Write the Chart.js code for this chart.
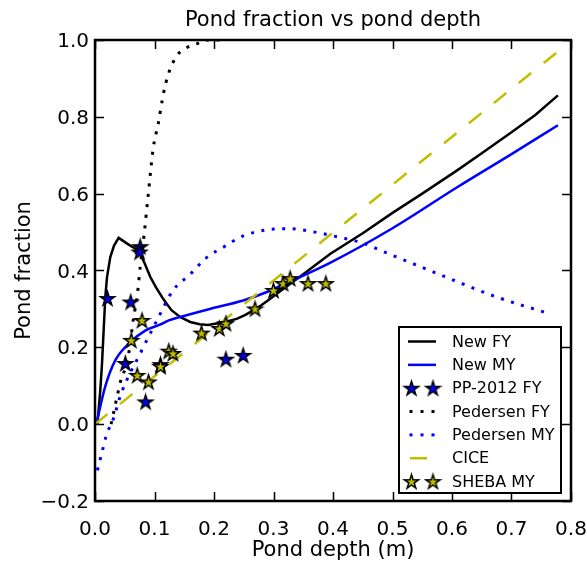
<!DOCTYPE html>
<html><head><meta charset="utf-8">
<script src="https://cdn.jsdelivr.net/npm/chart.js@4/dist/chart.umd.min.js"></script>
<style>html,body{margin:0;padding:0;background:#fff;overflow:hidden}</style>
</head><body>
<canvas id="c" width="587" height="564"></canvas>
<script>
// ---- data ----
const xTicks = [0.0, 0.1, 0.2, 0.3, 0.4, 0.5, 0.6, 0.7, 0.8];
const yTicks = [-0.2, 0.0, 0.2, 0.4, 0.6, 0.8, 1.0];

const newFyX = [0.004, 0.0089, 0.0118, 0.0173, 0.0202, 0.0257, 0.032, 0.0397, 0.056, 0.073, 0.083, 0.093, 0.103, 0.113, 0.121, 0.129, 0.143, 0.16, 0.176, 0.19, 0.204, 0.22, 0.238, 0.252, 0.266, 0.28, 0.294, 0.306, 0.35, 0.395, 0.45, 0.5, 0.55, 0.608, 0.65, 0.7, 0.74, 0.778];
const newFyY = [0.0, 0.088, 0.158, 0.331, 0.383, 0.435, 0.465, 0.485, 0.468, 0.452, 0.42, 0.383, 0.355, 0.33, 0.312, 0.296, 0.279, 0.266, 0.26, 0.258, 0.262, 0.267, 0.274, 0.284, 0.296, 0.31, 0.326, 0.34, 0.39, 0.443, 0.497, 0.55, 0.6, 0.66, 0.705, 0.76, 0.805, 0.856];

const newMyX = [0.003, 0.017, 0.034, 0.057, 0.085, 0.109, 0.124, 0.143, 0.193, 0.249, 0.289, 0.306, 0.395, 0.5, 0.608, 0.7, 0.778];
const newMyY = [0.006, 0.097, 0.166, 0.21, 0.244, 0.259, 0.27, 0.279, 0.3, 0.322, 0.344, 0.356, 0.42, 0.51, 0.616, 0.703, 0.778];

const ppFyX = [0.021, 0.076, 0.075, 0.06, 0.051, 0.085, 0.11, 0.22, 0.249];
const ppFyY = [0.327, 0.462, 0.448, 0.318, 0.158, 0.058, 0.155, 0.169, 0.179];

const pedFyX = [0.027, 0.031, 0.037, 0.045, 0.054, 0.059, 0.065, 0.071, 0.076, 0.083, 0.089, 0.098, 0.106, 0.115, 0.123, 0.138, 0.154, 0.171, 0.19, 0.21];
const pedFyY = [0.0, 0.028, 0.071, 0.123, 0.158, 0.21, 0.279, 0.335, 0.41, 0.5, 0.59, 0.72, 0.78, 0.86, 0.91, 0.96, 0.98, 0.99, 1.0, 1.0];

const pedMyX = [0.004, 0.012, 0.02, 0.029, 0.045, 0.076, 0.104, 0.131, 0.16, 0.188, 0.215, 0.249, 0.285, 0.323, 0.373, 0.409, 0.445, 0.496, 0.577, 0.675, 0.763];
const pedMyY = [-0.12, -0.072, -0.024, 0.006, 0.084, 0.184, 0.27, 0.348, 0.39, 0.434, 0.46, 0.49, 0.505, 0.509, 0.499, 0.487, 0.474, 0.442, 0.391, 0.331, 0.288];

const ciceX = [0.0, 0.778];
const ciceY = [0.0, 0.97];

const shebaX = [0.079, 0.061, 0.071, 0.09, 0.11, 0.124, 0.131, 0.179, 0.209, 0.22, 0.269, 0.3, 0.316, 0.328, 0.358, 0.388];
const shebaY = [0.27, 0.218, 0.127, 0.11, 0.15, 0.19, 0.184, 0.237, 0.249, 0.262, 0.3, 0.348, 0.366, 0.379, 0.366, 0.366];

const seriesNames = ['New FY', 'New MY', 'PP-2012 FY', 'Pedersen FY', 'Pedersen MY', 'CICE', 'SHEBA MY'];

// ---- helpers ----
const pts = (xs, ys) => xs.map((x, i) => ({x: x, y: ys[i]}));
const YEL = '#bfbf00';
function makeStar(fill, R) {
  const size = Math.ceil(R * 2 + 4);
  const c = document.createElement('canvas');
  c.width = c.height = size;
  const g = c.getContext('2d');
  const cx = size / 2, cy = size / 2 + 0.5, r = R * 0.381966;
  g.beginPath();
  for (let i = 0; i < 10; i++) {
    const a = -Math.PI / 2 + i * Math.PI / 5;
    const rr = (i % 2) ? r : R;
    g.lineTo(cx + rr * Math.cos(a), cy + rr * Math.sin(a));
  }
  g.closePath();
  g.fillStyle = fill; g.fill();
  g.lineWidth = 1.5; g.strokeStyle = '#000'; g.lineJoin = 'miter'; g.stroke();
  return c;
}
const blueStar = makeStar('#0000ff', 7.5);
const yelStar = makeStar(YEL, 7.5);

const FONT = "'DejaVu Sans', 'Liberation Sans', sans-serif";

const decor = {
  id: 'decor',
  afterDraw(chart) {
    const ctx = chart.ctx, a = chart.chartArea;
    const xs = chart.scales.x, ys = chart.scales.y;
    ctx.save();
    // frame
    ctx.strokeStyle = '#000';
    ctx.lineWidth = 2.5;
    ctx.strokeRect(a.left, a.top, a.right - a.left, a.bottom - a.top);
    // inward ticks on all sides
    ctx.lineWidth = 1.5;
    const TL = 9;
    ctx.beginPath();
    xTicks.forEach(v => {
      const px = Math.round(xs.getPixelForValue(v)) + 0.5;
      ctx.moveTo(px, a.bottom); ctx.lineTo(px, a.bottom - TL);
      ctx.moveTo(px, a.top); ctx.lineTo(px, a.top + TL);
    });
    yTicks.forEach(v => {
      const py = Math.round(ys.getPixelForValue(v)) + 0.5;
      ctx.moveTo(a.left, py); ctx.lineTo(a.left + TL, py);
      ctx.moveTo(a.right, py); ctx.lineTo(a.right - TL, py);
    });
    ctx.stroke();
    // tick labels
    ctx.fillStyle = '#000';
    ctx.font = '20px ' + FONT;
    ctx.textAlign = 'center';
    ctx.textBaseline = 'alphabetic';
    xTicks.forEach(v => {
      ctx.fillText(v.toFixed(1), xs.getPixelForValue(v), a.bottom + 34);
    });
    ctx.textAlign = 'right';
    yTicks.forEach(v => {
      const s = (v < 0 ? '\u2212' : '') + Math.abs(v).toFixed(1);
      ctx.fillText(s, a.left - 6, ys.getPixelForValue(v) + 7);
    });
    // title & axis titles
    ctx.font = '21px ' + FONT;
    ctx.textAlign = 'center';
    ctx.fillText('Pond fraction vs pond depth', (a.left + a.right) / 2, 26);
    ctx.fillText('Pond depth (m)', (a.left + a.right) / 2, 556);
    ctx.save();
    ctx.translate(30, (a.top + a.bottom) / 2);
    ctx.rotate(-Math.PI / 2);
    ctx.fillText('Pond fraction', 0, 0);
    ctx.restore();
    // legend
    const L = 399, T = 327, W = 162, H = 166;
    ctx.fillStyle = '#fff';
    ctx.fillRect(L, T, W, H);
    ctx.lineWidth = 2;
    ctx.strokeStyle = '#000';
    ctx.strokeRect(L, T, W, H);
    const ds = chart.data.datasets;
    ctx.font = '16px ' + FONT;
    ctx.textAlign = 'left';
    ctx.textBaseline = 'middle';
    seriesNames.forEach((name, i) => {
      const y = 341.5 + i * 23.35;
      const d = ds[i];
      if (d.isStars) {
        const img = d.pointStyle;
        ctx.drawImage(img, 411.5 - img.width / 2, y - img.height / 2);
        ctx.drawImage(img, 433 - img.width / 2, y - img.height / 2);
      } else if (d.isDotted) {
        ctx.fillStyle = d.borderColor;
        [411, 422, 433].forEach(px => { ctx.fillRect(px - 1.5, y - 1.5, 3, 3); });
      } else if (d.isDashed) {
        ctx.strokeStyle = d.borderColor; ctx.lineWidth = 2.5;
        ctx.beginPath(); ctx.moveTo(410, y); ctx.lineTo(427, y); ctx.stroke();
      } else {
        ctx.strokeStyle = d.borderColor; ctx.lineWidth = 2.5;
        ctx.beginPath(); ctx.moveTo(408, y); ctx.lineTo(436, y); ctx.stroke();
      }
      ctx.fillStyle = '#000';
      ctx.fillText(name, 452, y + 1);
    });
    ctx.restore();
  }
};

const lineDs = (label, xs, ys, color, extra) => Object.assign({
  label: label, data: pts(xs, ys), showLine: true, borderColor: color,
  backgroundColor: color, borderWidth: 2.5, pointRadius: 0, pointHoverRadius: 0,
  fill: false
}, extra || {});

const datasets = [
  lineDs(seriesNames[0], newFyX, newFyY, '#000000', {tension: 0}),
  lineDs(seriesNames[1], newMyX, newMyY, '#0000ff', {cubicInterpolationMode: 'monotone'}),
  {label: seriesNames[2], data: pts(ppFyX, ppFyY), showLine: false, pointStyle: blueStar, pointRadius: 8, isStars: true},
  lineDs(seriesNames[3], pedFyX, pedFyY, '#000000', {cubicInterpolationMode: 'monotone', borderWidth: 3, borderDash: [3, 7.5], isDotted: true}),
  lineDs(seriesNames[4], pedMyX, pedMyY, '#0000ff', {cubicInterpolationMode: 'monotone', borderWidth: 3, borderDash: [3, 7.5], isDotted: true}),
  lineDs(seriesNames[5], ciceX, ciceY, YEL, {borderWidth: 2.5, borderDash: [16, 16], isDashed: true}),
  {label: seriesNames[6], data: pts(shebaX, shebaY), showLine: false, pointStyle: yelStar, pointRadius: 8, isStars: true}
];
datasets.forEach((d, i) => { d.order = datasets.length - i; });

new Chart(document.getElementById('c'), {
  type: 'scatter',
  data: {datasets: datasets},
  options: {
    responsive: false,
    devicePixelRatio: 1,
    animation: false,
    events: [],
    layout: {padding: {left: 95, right: 16, top: 40, bottom: 63}},
    scales: {
      x: {type: 'linear', min: 0, max: 0.8, display: false},
      y: {type: 'linear', min: -0.2, max: 1.0, display: false}
    },
    plugins: {legend: {display: false}, tooltip: {enabled: false}, title: {display: false}}
  },
  plugins: [decor]
});
</script>
</body></html>
